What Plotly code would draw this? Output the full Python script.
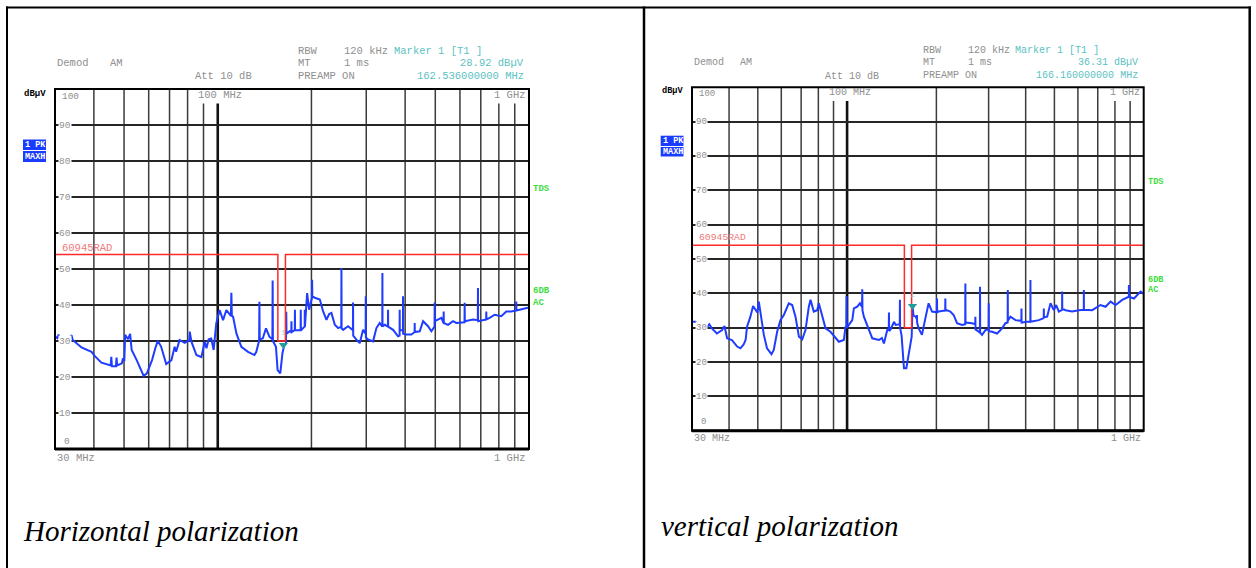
import math
import plotly.graph_objects as go

# ---------------- data ----------------
H_FREQ_MHZ = [
    30.0, 30.5, 30.8, 31.1, 33.0, 33.9, 34.2, 36.5, 39.3, 40.3, 42.3, 45.3, 45.5, 45.7, 47.1, 47.3, 47.5,
    49.2, 49.6, 50.1, 50.4, 51.5, 52.3, 52.9, 54.9, 56.0, 57.8, 59.2, 61.5, 63.0, 64.2, 65.8, 67.0, 68.3,
    71.0, 72.7, 73.5, 75.4, 78.3, 81.0, 81.3, 82.3, 85.4, 88.6, 90.8, 92.0, 93.5, 95.3, 97.0, 97.7, 98.9,
    101.4, 104.0, 106.6, 110.2, 110.6, 111.0, 112.0, 114.8, 119.1, 125.1, 131.2, 133.0, 135.8, 136.1, 136.4,
    139.5, 142.9, 146.5, 149.8, 150.1, 150.4, 153.8, 155.7, 158.8, 161.4, 163.3, 165.7, 166.0, 166.3,
    170.4, 172.3, 172.5, 172.7, 176.8, 177.0, 177.2, 184.6, 184.8, 185.0, 190.2, 190.4, 190.6, 193.7, 196.6,
    200.8, 201.0, 201.3, 205.0, 212.8, 218.1, 223.5, 228.0, 231.9, 237.7, 243.6, 249.4, 249.7, 250.0, 252.8,
    262.2, 271.8, 272.1, 272.4, 278.9, 285.9, 293.0, 298.6, 298.9, 299.2, 304.1, 315.5, 323.4, 331.4, 337.8,
    338.1, 338.4, 343.9, 352.2, 352.5, 352.8, 365.8, 379.6, 383.9, 384.2, 384.5, 393.5, 393.8, 394.1, 403.6,
    418.9, 429.0, 429.3, 429.6, 445.6, 456.7, 473.8, 485.6, 497.2, 497.7, 498.2, 522.9, 531.5, 532.0, 532.5,
    549.3, 569.9, 584.1, 620.6, 621.3, 622.0, 660.8, 684.8, 685.6, 686.4, 728.4, 729.2, 730.0, 747.4, 775.5,
    814.7, 845.4, 877.2, 909.5, 910.3, 911.1, 933.0, 992.4, 1000.0,
]
H_LEVEL_DBUV = [
    31.2, 30.8, 31.8, 30.6, 30.4, 31.6, 30.3, 28.2, 27.0, 25.8, 24.0, 23.2, 25.6, 23.0, 23.0, 25.4, 23.2,
    23.8, 25.2, 24.4, 31.7, 30.5, 32.0, 27.5, 24.7, 23.0, 20.3, 21.0, 24.7, 28.0, 30.1, 28.4, 26.0, 23.6,
    24.7, 28.4, 27.0, 30.3, 29.5, 30.2, 32.6, 29.8, 26.1, 25.5, 29.8, 28.0, 30.5, 30.7, 27.5, 30.0, 34.9,
    38.6, 35.8, 38.6, 37.0, 43.4, 37.0, 36.8, 32.1, 28.4, 27.0, 26.1, 27.0, 30.1, 40.9, 30.5,
    30.7, 33.5, 31.2, 30.5, 46.8, 30.0, 28.4, 21.9, 21.0, 26.6, 28.6, 29.5, 38.1, 32.0,
    32.7, 32.5, 35.5, 32.5, 33.0, 38.7, 33.0, 33.0, 38.7, 33.0, 34.0, 38.7, 34.0, 43.3, 38.7,
    42.0, 47.0, 42.5, 42.0, 41.5, 38.2, 35.9, 37.5, 37.8, 34.5, 33.6, 34.0, 50.3, 33.5, 33.1,
    34.1, 33.0, 40.7, 31.5, 30.4, 29.4, 33.1, 32.0, 42.4, 31.0, 30.4, 29.9, 33.6, 35.0, 34.0,
    48.9, 34.0, 34.5, 34.0, 38.7, 34.0, 33.1, 31.3, 31.5, 38.7, 33.0, 33.0, 42.4, 32.0, 31.8,
    31.8, 32.5, 35.0, 32.5, 32.7, 35.5, 34.1, 32.7, 34.0, 40.7, 35.5, 36.4, 35.0, 38.2, 35.0,
    34.5, 35.5, 35.0, 35.2, 40.6, 35.5, 36.0, 35.8, 44.7, 35.5, 36.0, 38.2, 36.0, 36.4, 37.3,
    36.9, 38.2, 38.2, 38.5, 41.0, 38.5, 38.7, 39.2, 39.3,
]

V_FREQ_MHZ = [
    30.0, 30.8, 31.6, 32.4, 33.7, 34.3, 35.0, 36.4, 37.9, 38.6, 39.4, 40.9, 42.6, 43.7, 44.8, 45.5, 46.0,
    47.2, 48.2, 49.1, 49.8, 50.4, 51.4, 52.4, 53.7, 55.6, 56.6, 58.1, 59.6, 61.2, 63.6, 65.3, 67.0, 68.8,
    70.6, 72.4, 74.3, 75.3, 77.2, 79.3, 80.3, 82.4, 84.6, 87.9, 91.4, 93.8, 97.5, 98.8, 99.4, 99.6, 99.8,
    101.4, 104.1, 105.4, 108.2, 110.5, 112.3, 112.5, 112.7, 113.9, 116.9, 121.6, 128.0, 131.0, 133.1, 136.6,
    138.2, 138.4, 138.6, 140.2, 143.9, 145.8, 149.6, 150.5, 150.7, 150.9, 152.7, 155.5, 158.4, 161.7, 165.1,
    166.2, 167.5, 170.3, 171.8, 172.0, 172.2, 174.3, 178.8, 183.6, 188.3, 193.3, 200.8, 201.0, 201.2, 203.6,
    214.2, 214.4, 214.6, 217.2, 222.9, 228.7, 234.8, 244.1, 250.2, 250.5, 250.8, 263.8, 270.4, 270.7, 271.0,
    277.8, 280.4, 280.7, 281.0, 285.1, 292.6, 300.0, 300.3, 300.6, 308.2, 320.4, 333.1, 341.8, 347.8, 348.1,
    348.4, 355.4, 369.5, 386.9, 387.2, 387.5, 404.5, 414.8, 415.1, 415.4, 442.9, 460.3, 460.6, 460.9, 472.7,
    485.1, 497.7, 506.9, 517.4, 530.7, 531.1, 531.5, 545.0, 573.9, 604.4, 628.0, 628.4, 628.8, 670.4, 715.2,
    743.6, 773.1, 803.8, 846.6, 891.0, 891.6, 892.2, 927.0, 976.2, 1000.0,
]
V_LEVEL_DBUV = [
    31.7, 31.7, 31.1, 30.8, 30.1, 31.0, 29.8, 28.3, 29.3, 30.5, 26.9, 26.4, 24.5, 24.0, 25.1, 26.5, 30.3,
    33.2, 36.3, 35.1, 34.4, 37.6, 33.2, 27.9, 24.0, 22.3, 23.5, 28.8, 32.2, 33.7, 37.1, 36.6, 33.2, 27.4,
    26.6, 29.3, 36.1, 38.1, 34.7, 35.1, 37.1, 33.2, 29.8, 28.8, 26.9, 25.9, 26.4, 30.3, 30.0, 39.2, 30.0,
    30.8, 32.2, 35.6, 36.1, 37.1, 36.0, 41.2, 35.0, 33.2, 30.5, 26.9, 26.4, 27.0, 25.4, 29.3,
    29.5, 34.4, 29.0, 29.5, 31.7, 30.8, 31.0, 31.0, 38.1, 30.0, 27.6, 18.2, 18.2, 22.5, 27.4,
    36.3, 33.5, 33.2, 32.5, 33.7, 31.5, 29.8, 27.9, 32.7, 37.1, 34.7, 34.5, 38.5, 34.5, 34.7,
    35.0, 38.5, 35.0, 35.1, 34.7, 33.7, 31.3, 30.8, 31.0, 42.9, 31.5, 31.3, 31.0, 33.2, 29.5,
    28.8, 28.5, 41.9, 28.5, 27.9, 29.3, 29.5, 37.1, 29.0, 28.8, 28.3, 29.8, 31.3, 31.5, 41.0,
    32.0, 33.2, 32.2, 32.0, 35.6, 31.5, 31.7, 31.7, 43.9, 31.7, 32.2, 32.8, 35.6, 33.0, 33.2,
    37.1, 35.1, 36.6, 34.7, 35.2, 40.5, 35.5, 35.1, 34.7, 35.1, 35.2, 41.0, 35.2, 35.1, 36.6,
    36.1, 37.6, 36.6, 38.1, 39.0, 42.4, 39.0, 38.5, 40.5, 39.8,
]

LIMIT_FREQ_MHZ = [30, 156, 156, 165, 165, 1000]
LIMIT_DBUV = [54, 54, 30, 30, 54, 54]

GRID_MHZ = [40, 50, 60, 70, 80, 90, 100, 200, 300, 400, 500, 600, 700, 800, 900]
Y_TICKS_DB = [10, 20, 30, 40, 50, 60, 70, 80, 90]

H_MARKER = {"freq": 162.536, "level": 28.92}
V_MARKER = {"freq": 166.16, "level": 36.31}

CAPTION_H = "Horizontal polarization"
CAPTION_V = "vertical polarization"

# ---------------- styling / layout ----------------
W, H = 1256, 568
MONO = "Liberation Mono"
GRAY = "#8f8f8f"
TEAL = "#5cc2c2"
GREEN = "#3ddc3d"
PINK = "#f07878"
BLUE_BOX = "#1a3cff"
TRACE = "#1f3cff"
RED = "#ff2a2a"


def fx(px):
    return px / W


def fy(py):
    return 1 - py / H


fig = go.Figure()

panels = [
    dict(xa="x", ya="y", box=(55, 89, 529, 449), freq=H_FREQ_MHZ, lev=H_LEVEL_DBUV,
         marker=H_MARKER, s=1.0),
    dict(xa="x2", ya="y2", box=(692, 87.3, 1143.7, 430.7), freq=V_FREQ_MHZ, lev=V_LEVEL_DBUV,
         marker=V_MARKER, s=0.955),
]

xr = [math.log10(30), math.log10(1000)]
layout_axes = {}
for i, p in enumerate(panels):
    x0, y0, x1, y1 = p["box"]
    suf = "" if i == 0 else "2"
    layout_axes["xaxis" + suf] = dict(
        type="log", range=xr, domain=[fx(x0), fx(x1)], anchor="y" + suf,
        showgrid=False, zeroline=False, showticklabels=False, ticks="", showline=False,
    )
    layout_axes["yaxis" + suf] = dict(
        range=[0, 100], domain=[fy(y1), fy(y0)], anchor="x" + suf,
        showgrid=True, gridcolor="#262626", gridwidth=1.5, dtick=10, tick0=0,
        zeroline=False, showticklabels=False, ticks="", showline=False,
    )

    # trace
    fig.add_trace(go.Scatter(x=p["freq"], y=p["lev"], mode="lines", xaxis=p["xa"], yaxis=p["ya"],
                             line=dict(color=TRACE, width=2.0), hoverinfo="skip", showlegend=False))
    # limit line
    fig.add_trace(go.Scatter(x=LIMIT_FREQ_MHZ, y=LIMIT_DBUV, mode="lines", xaxis=p["xa"], yaxis=p["ya"],
                             line=dict(color=RED, width=1.5), hoverinfo="skip", showlegend=False))
    # marker
    m = p["marker"]
    fig.add_trace(go.Scatter(x=[m["freq"]], y=[m["level"]], mode="markers", xaxis=p["xa"], yaxis=p["ya"],
                             marker=dict(symbol="triangle-down", size=8, color="#1f9c9c"),
                             hoverinfo="skip", showlegend=False))
    fig.add_annotation(x=math.log10(m["freq"]), y=m["level"], xref=p["xa"], yref=p["ya"], text="1",
                       showarrow=False, yshift=12, font=dict(family=MONO, size=8, color="#8fd0d0"))

    # vertical grid lines
    for f in GRID_MHZ:
        top = 96 if f in (90, 100, 800, 900) else 100
        fig.add_shape(type="line", xref=p["xa"], yref=p["ya"], x0=f, x1=f, y0=0, y1=top,
                      line=dict(color="#111" if f == 100 else "#3c3c3c", width=2.6 if f == 100 else 1.5),
                      layer="below")

    # plot frame
    fig.add_shape(type="rect", xref=p["xa"] + " domain", yref=p["ya"] + " domain", x0=0, x1=1, y0=0, y1=1,
                  line=dict(color="black", width=2), layer="above")
    fig.add_shape(type="line", xref=p["xa"] + " domain", yref=p["ya"] + " domain", x0=0, x1=1, y0=0, y1=0,
                  line=dict(color="black", width=3), layer="above")

    # y labels on gridlines
    for v in Y_TICKS_DB:
        fig.add_annotation(x=0, y=v, xref=p["xa"] + " domain", yref=p["ya"], text=str(v), showarrow=False,
                           xanchor="left", yanchor="middle", xshift=3, bgcolor="white", borderpad=0,
                           font=dict(family=MONO, size=9.5 * p["s"], color=GRAY))

fig.update_layout(**layout_axes)


def text(x, y, t, color=GRAY, size=10.5, anchor="left", bold=False, family=MONO, style="normal", bg=None):
    fig.add_annotation(x=fx(x), y=fy(y), xref="paper", yref="paper", text=t, showarrow=False,
                       xanchor=anchor, yanchor="middle", borderpad=0, bgcolor=bg,
                       font=dict(family=family, size=size, color=color,
                                 weight="bold" if bold else "normal", style=style))


# instrument header texts
HEADERS = [
    # left panel
    (56, 63, "Demod", GRAY, "left", 1.0), (109, 63, "AM", GRAY, "left", 1.0),
    (194, 76.5, "Att 10 dB", GRAY, "left", 1.0),
    (297, 50.7, "RBW", GRAY, "left", 1.0), (343.3, 50.7, "120 kHz", GRAY, "left", 1.0),
    (297, 63.3, "MT", GRAY, "left", 1.0), (343.3, 63.3, "1 ms", GRAY, "left", 1.0),
    (297, 76.3, "PREAMP ON", GRAY, "left", 1.0),
    (393.3, 50.7, "Marker 1 [T1 ]", TEAL, "left", 1.0),
    (525, 63.3, "28.92 dBµV", TEAL, "right", 1.0),
    (525, 76.3, "162.536000000 MHz", TEAL, "right", 1.0),
    (197, 94.7, "100 MHz", GRAY, "left", 1.0), (492.7, 94.7, "1 GHz", GRAY, "left", 1.0),
    (56, 457.7, "30 MHz", GRAY, "left", 1.0), (527, 457.7, "1 GHz", GRAY, "right", 1.0),
    (60.7, 96, "100", GRAY, "left", 0.9), (63, 441, "0", GRAY, "left", 0.9),
    (61, 247.7, "60945RAD", PINK, "left", 1.0),
    # right panel
    (692.7, 62.7, "Demod", GRAY, "left", 0.955), (739.3, 62.7, "AM", GRAY, "left", 0.955),
    (824.3, 76, "Att 10 dB", GRAY, "left", 0.955),
    (922.3, 50, "RBW", GRAY, "left", 0.955), (966.7, 50, "120 kHz", GRAY, "left", 0.955),
    (922.3, 62.7, "MT", GRAY, "left", 0.955), (966.7, 62.7, "1 ms", GRAY, "left", 0.955),
    (922.3, 75.7, "PREAMP ON", GRAY, "left", 0.955),
    (1014, 50, "Marker 1 [T1 ]", TEAL, "left", 0.955),
    (1139.3, 62.7, "36.31 dBµV", TEAL, "right", 0.955),
    (1139.3, 75.7, "166.160000000 MHz", TEAL, "right", 0.955),
    (827.7, 92.7, "100 MHz", GRAY, "left", 0.955), (1109, 92.7, "1 GHz", GRAY, "left", 0.955),
    (693.3, 438.3, "30 MHz", GRAY, "left", 0.955), (1142, 438.3, "1 GHz", GRAY, "right", 0.955),
    (697.7, 93.3, "100", GRAY, "left", 0.86), (700, 421.7, "0", GRAY, "left", 0.86),
    (697.7, 237.7, "60945RAD", PINK, "left", 0.93),
]
for x, y, t, c, a, s in HEADERS:
    text(x, y, t, color=c, size=10.5 * s, anchor=a)

# bold labels
for x, y, t, c, s in [
    (23, 94, "dBµV", "black", 1.0), (660.7, 91.3, "dBµV", "black", 0.955),
    (532, 189, "TDS", GREEN, 1.0), (532, 291, "6DB", GREEN, 1.0), (532, 303, "AC", GREEN, 1.0),
    (1147, 182, "TDS", GREEN, 0.955), (1147.3, 280, "6DB", GREEN, 0.955), (1147.3, 290, "AC", GREEN, 0.955),
]:
    text(x, y, t, color=c, size=9 * s, bold=True)

# blue status boxes
for (x0, y0, x1, y1, t) in [
    (23, 139.5, 46, 150, "1 PK"), (23, 151, 46, 162, "MAXH"),
    (660.7, 135.7, 683.5, 146, "1 PK"), (660.7, 147, 683.5, 156.5, "MAXH"),
]:
    fig.add_shape(type="rect", xref="paper", yref="paper", x0=fx(x0), x1=fx(x1), y0=fy(y1), y1=fy(y0),
                  fillcolor=BLUE_BOX, line=dict(width=0), layer="above")
    text(x0 + 1, (y0 + y1) / 2, t, color="white", size=8.5, bold=True)

# captions
text(22, 531, CAPTION_H, color="black", size=29, family="Liberation Serif", style="italic")
text(660, 526, CAPTION_V, color="black", size=29, family="Liberation Serif", style="italic")

# table frame
for (x0, y0, x1, y1, w) in [
    (6, 7.5, 1251, 7.5, 2), (7, 6.5, 7, 568, 2), (644, 6.5, 644, 568, 2.5), (1249.7, 6.5, 1249.7, 568, 2.5),
]:
    fig.add_shape(type="line", xref="paper", yref="paper", x0=fx(x0), x1=fx(x1), y0=fy(y0), y1=fy(y1),
                  line=dict(color="black", width=w), layer="above")

fig.update_layout(
    width=W, height=H, margin=dict(l=0, r=0, t=0, b=0),
    paper_bgcolor="white", plot_bgcolor="white", showlegend=False,
)

fig.write_html("out.html", post_script="document.body.style.margin='0';")
